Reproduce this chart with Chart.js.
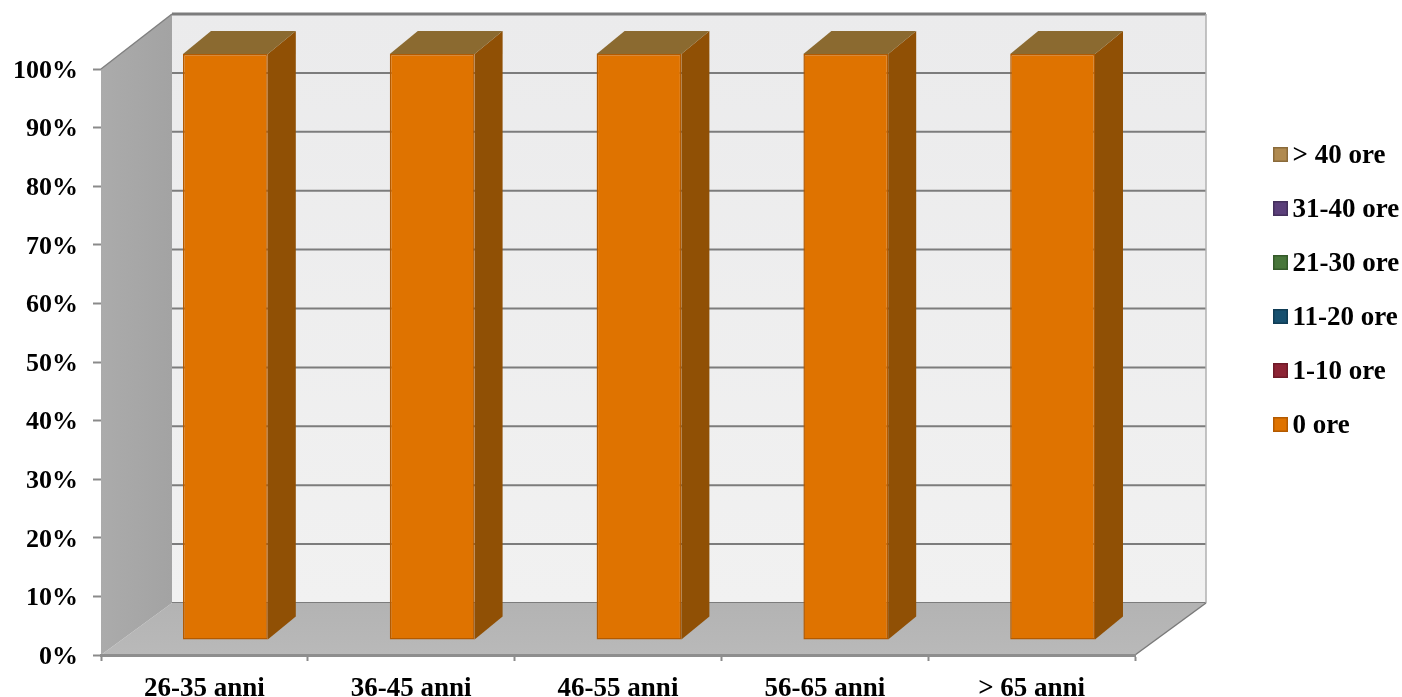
<!DOCTYPE html>
<html>
<head>
<meta charset="utf-8">
<title>Ore per fascia di età</title>
<script src="https://cdn.jsdelivr.net/npm/chart.js@4"></script>
<style>
  html, body { margin: 0; padding: 0; background: #fff; }
  canvas { display: block; }
</style>
</head>
<body>
<canvas id="hours-chart" width="1402" height="697"></canvas>
<script>
const categories = ["26-35 anni", "36-45 anni", "46-55 anni", "56-65 anni", "> 65 anni"];
const seriesNames = ["0 ore", "1-10 ore", "11-20 ore", "21-30 ore", "31-40 ore", "> 40 ore"];
const ore0 = [100, 100, 100, 100, 100];
const ore1to10 = [0, 0, 0, 0, 0];
const ore11to20 = [0, 0, 0, 0, 0];
const ore21to30 = [0, 0, 0, 0, 0];
const ore31to40 = [0, 0, 0, 0, 0];
const oreOver40 = [0, 0, 0, 0, 0];
const seriesColors = ["#df7300", "#8c2334", "#17506f", "#48763a", "#5b3f7a", "#b08a50"];
const seriesBorders = ["#b35a00", "#6e1a28", "#103c55", "#355a2a", "#44305c", "#8a6a3a"];

const fontName = "'Liberation Serif', serif";
const fontSize = 27;

// fake 3d depth of the box and of the bars
const wallDx = 71;
const barShiftX = 21, barShiftY = -15;
const barDepthX = 28, barDepthY = -23;

function legendSwatch(color, border) {
  // canvas is bigger than the box, that moves the box a bit next to the text
  const c = document.createElement("canvas");
  c.width = 19;
  c.height = 19;
  const g = c.getContext("2d");
  g.fillStyle = color;
  g.fillRect(4, 0, 15, 15);
  g.strokeStyle = border;
  g.lineWidth = 1.5;
  g.strokeRect(4.75, 0.75, 13.5, 13.5);
  return c;
}

function poly(ctx, pts, fill, stroke, lw) {
  ctx.beginPath();
  pts.forEach((p, i) => i ? ctx.lineTo(p[0], p[1]) : ctx.moveTo(p[0], p[1]));
  ctx.closePath();
  if (fill) { ctx.fillStyle = fill; ctx.fill(); }
  if (stroke) { ctx.strokeStyle = stroke; ctx.lineWidth = lw || 1; ctx.stroke(); }
}

const box3d = {
  id: "box3d",
  afterLayout(chart) {
    // legend sits right of the box, not in the layout
    const lg = chart.legend;
    lg.left = 1251;
    lg.right = 1402;
    lg.top = 116;
    lg.bottom = 660;
  },
  beforeDraw(chart) {
    const ctx = chart.ctx;
    const { left, right } = chart.chartArea;
    const y = chart.scales.y;
    const backY = v => y.getPixelForValue(v) - 52 - v / 100 * 3;
    const y0 = y.getPixelForValue(0), y100 = y.getPixelForValue(100);
    const bl = left + wallDx, br = right + wallDx;

    ctx.save();
    // back wall
    const wall = ctx.createLinearGradient(0, backY(100), 0, backY(0));
    wall.addColorStop(0, "#ebebec");
    wall.addColorStop(1, "#f1f1f1");
    poly(ctx, [[bl, backY(100)], [br, backY(100)], [br, backY(0)], [bl, backY(0)]], wall);

    // grid lines on the back wall
    for (let v = 0; v <= 100; v += 10) {
      ctx.strokeStyle = "#7c7c7c";
      ctx.lineWidth = v === 100 ? 3 : 2;
      ctx.beginPath();
      ctx.moveTo(bl, backY(v));
      ctx.lineTo(br, backY(v));
      ctx.stroke();
    }
    ctx.strokeStyle = "#b0b0b0";
    ctx.lineWidth = 1.5;
    ctx.beginPath();
    ctx.moveTo(br, backY(100));
    ctx.lineTo(br, backY(0));
    ctx.stroke();

    // floor
    const floor = ctx.createLinearGradient(0, backY(0), 0, y0);
    floor.addColorStop(0, "#b3b3b3");
    floor.addColorStop(1, "#b9b9b9");
    poly(ctx, [[left, y0], [bl, backY(0)], [br, backY(0)], [right, y0]], floor);
    ctx.strokeStyle = "#7a7a7a";
    ctx.lineWidth = 1.5;
    ctx.beginPath();
    ctx.moveTo(right, y0);
    ctx.lineTo(br, backY(0));
    ctx.stroke();

    // left wall
    const side = ctx.createLinearGradient(left, 0, bl, 0);
    side.addColorStop(0, "#ababab");
    side.addColorStop(1, "#a3a3a3");
    poly(ctx, [[left, y100], [bl, backY(100)], [bl, backY(0)], [left, y0]], side);
    ctx.strokeStyle = "#808080";
    ctx.lineWidth = 1.5;
    ctx.beginPath();
    ctx.moveTo(left, y100);
    ctx.lineTo(bl, backY(100));
    ctx.stroke();
    ctx.restore();
  },
  beforeDatasetDraw(chart, args) {
    const ctx = chart.ctx;
    // side and top of the bar, only the stack that has height
    if (args.index === 0) {
      args.meta.data.forEach(bar => {
        const p = bar.getProps(["x", "y", "base", "width"], true);
        const r = p.x + p.width / 2 + barShiftX;
        const l = p.x - p.width / 2 + barShiftX;
        const t = p.y + barShiftY;
        const b = p.base + barShiftY;
        poly(ctx, [[r, t], [r + barDepthX, t + barDepthY], [r + barDepthX, b + barDepthY], [r, b]], "#905005");
        poly(ctx, [[l, t], [l + barDepthX, t + barDepthY], [r + barDepthX, t + barDepthY], [r, t]], "#8b6a30");
      });
    }
    ctx.save();
    ctx.translate(barShiftX, barShiftY);
  },
  afterDatasetDraw(chart) {
    chart.ctx.restore();
  }
};

const seriesValues = [ore0, ore1to10, ore11to20, ore21to30, ore31to40, oreOver40];

new Chart(document.getElementById("hours-chart").getContext("2d"), {
  type: "bar",
  data: {
    labels: categories,
    datasets: seriesNames.map((name, i) => ({
      label: name,
      data: seriesValues[i],
      backgroundColor: seriesColors[i],
      borderColor: seriesBorders[i],
      borderWidth: 1.5,
      borderSkipped: false,
      clip: false,
      categoryPercentage: 1,
      barPercentage: 0.41
    }))
  },
  options: {
    responsive: false,
    animation: false,
    layout: { padding: { top: 69, right: 267, left: 0, bottom: 0 } },
    plugins: {
      tooltip: { enabled: false },
      legend: {
        position: "chartArea",
        align: "start",
        reverse: true,
        labels: {
          usePointStyle: true,
          pointStyleWidth: 1,
          boxHeight: 13,
          padding: 27,
          color: "#000",
          font: { family: fontName, size: fontSize, weight: "bold" },
          generateLabels(chart) {
            const items = Chart.defaults.plugins.legend.labels.generateLabels(chart);
            items.forEach((item, i) => {
              item.pointStyle = legendSwatch(seriesColors[i], seriesBorders[i]);
            });
            return items;
          }
        }
      }
    },
    scales: {
      x: {
        stacked: true,
        afterFit(scale) { scale.height = 42; },
        grid: { drawOnChartArea: false, tickLength: 6, tickColor: "#8a8a8a", tickWidth: 2 },
        border: { color: "#8e8e8e", width: 3 },
        ticks: {
          autoSkip: false,
          maxRotation: 0,
          padding: 12,
          color: "#000",
          font: { family: fontName, size: fontSize, weight: "bold" }
        }
      },
      y: {
        stacked: true,
        min: 0,
        max: 100,
        afterFit(scale) { scale.width = 101; },
        grid: { drawOnChartArea: false, tickLength: 8, tickColor: "#8a8a8a", tickWidth: 2 },
        border: { display: false },
        ticks: {
          stepSize: 10,
          padding: 15,
          labelOffset: 2,
          color: "#000",
          font: { family: fontName, size: 26, weight: "bold" },
          callback: v => v + "%"
        }
      }
    }
  },
  plugins: [box3d]
});
</script>
</body>
</html>
